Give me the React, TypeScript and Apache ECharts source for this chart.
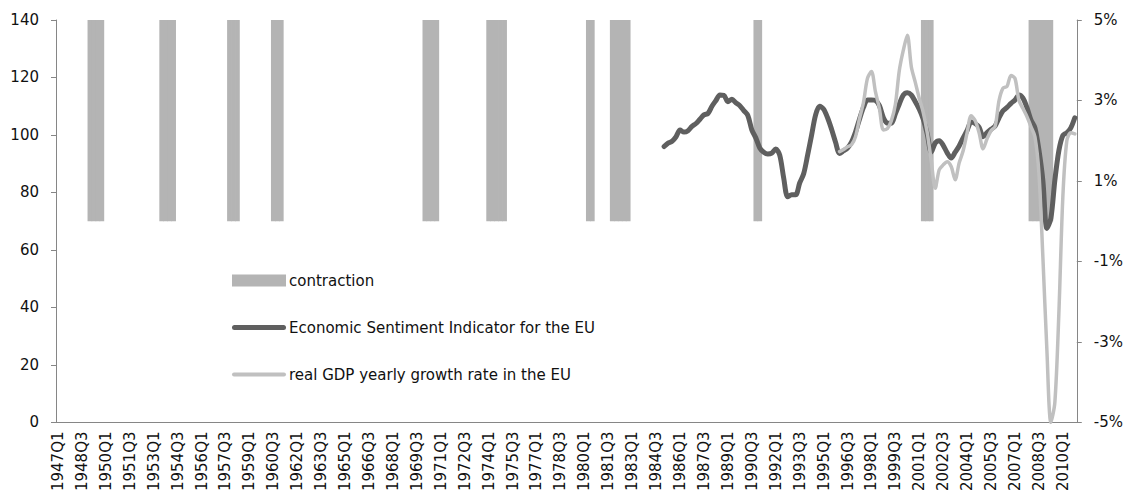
import React, { useEffect, useRef } from "react";
import * as echarts from "echarts";

// ---------- data ----------
const firstYear = 1947;
const lastYear = 2010;

const quarters: string[] = [];
for (let y = firstYear; y <= lastYear; y++) {
  for (let q = 1; q <= 4; q++) quarters.push(`${y}Q${q}`);
}

const contractionQuarters = [
  "1949Q1", "1949Q2", "1949Q3", "1949Q4",
  "1953Q3", "1953Q4", "1954Q1", "1954Q2",
  "1957Q4", "1958Q1", "1958Q2",
  "1960Q3", "1960Q4", "1961Q1",
  "1970Q1", "1970Q2", "1970Q3", "1970Q4",
  "1974Q1", "1974Q2", "1974Q3", "1974Q4", "1975Q1",
  "1980Q2", "1980Q3",
  "1981Q4", "1982Q1", "1982Q2", "1982Q3", "1982Q4",
  "1990Q4", "1991Q1",
  "2001Q2", "2001Q3", "2001Q4",
  "2008Q1", "2008Q2", "2008Q3", "2008Q4", "2009Q1", "2009Q2",
];
const contractionLow = 70;
const contractionHigh = 140;

const esiStart = "1985Q1";
const esiValues = [
  96.0, 97.2, 97.8, 99.4, 101.7, 101.0, 101.5, 103.0, 104.0, 105.5,
  107.0, 107.5, 110.0, 112.0, 113.9, 113.8, 111.6, 112.4, 111.2, 110.2,
  108.5, 106.8, 101.8, 99.0, 95.5, 94.0, 93.4, 93.7, 95.1, 93.0,
  85.0, 78.5, 79.2, 79.2, 83.3, 86.5, 93.0, 100.0, 107.0, 110.0,
  109.0, 106.0, 102.0, 97.5, 93.6, 94.5, 95.5, 97.5, 101.0, 105.5,
  109.6, 112.2, 112.2, 112.0, 110.2, 106.0, 104.1, 104.1, 107.4, 110.8,
  113.9, 114.7, 113.9, 111.6, 109.0, 105.5, 100.3, 94.0, 97.2, 98.0,
  96.4, 93.8, 92.0, 94.0, 96.2, 99.0, 101.6, 104.5, 104.0, 102.7,
  99.4, 100.8, 102.0, 103.1, 106.0, 108.4, 109.6, 111.0, 112.2, 113.9,
  112.8, 109.5, 105.2, 102.5, 94.8, 84.0, 67.5, 71.0, 84.3, 94.5,
  99.8, 100.8, 102.5, 106.0,
];

const gdpStart = "1996Q1";
const gdpValues = [
  1.73, 1.78, 1.85, 1.9, 2.1, 2.55, 2.95, 3.55, 3.72, 3.22,
  2.8, 2.27, 2.3, 2.5, 2.9, 3.75, 4.25, 4.62, 3.84, 3.45,
  3.05, 2.7, 2.2, 1.5, 0.82, 1.28, 1.4, 1.48, 1.36, 1.03,
  1.45, 1.75, 2.2, 2.62, 2.5, 2.2, 1.8, 2.05, 2.25, 2.35,
  3.0, 3.31, 3.35, 3.62, 3.55, 3.0, 2.8, 2.6, 2.35, 2.1,
  1.2, -0.9, -3.2, -5.0, -4.5, -2.3, 0.6, 2.0, 2.2, 2.17,
];

const leftTicks = { min: 0, max: 140, interval: 20 };
const rightTicks = { min: -5, max: 5, interval: 2 };

const seriesNames = {
  contraction: "contraction",
  esi: "Economic Sentiment Indicator for the EU",
  gdp: "real GDP yearly growth rate in the EU",
};

// ---------- derived arrays ----------
function padSeries(start: string, values: number[]): (number | null)[] {
  const s = quarters.indexOf(start);
  return quarters.map((_, i) => (i >= s && i - s < values.length ? values[i - s] : null));
}
const contractionBase = quarters.map((q) => (contractionQuarters.includes(q) ? contractionLow : null));
const contractionBar = quarters.map((q) =>
  contractionQuarters.includes(q) ? contractionHigh - contractionLow : null
);
const esiData = padSeries(esiStart, esiValues);
const gdpData = padSeries(gdpStart, gdpValues);

const FONT = "'DejaVu Sans', 'Liberation Sans', sans-serif";
const FS = 15;
const AXIS_COLOR = "#868686";
const TEXT_COLOR = "#111";
const BAR_COLOR = "#b4b4b4";

export default function App() {
  const ref = useRef<HTMLDivElement>(null);
  useEffect(() => {
    if (!ref.current) return;
    const chart = echarts.init(ref.current, null, { renderer: "svg" });
    chart.setOption({
      animation: false,
      backgroundColor: "#fff",
      textStyle: { fontFamily: FONT },
      grid: { left: 56, right: 47, top: 20, bottom: 71, containLabel: false },
      legend: {
        orient: "vertical",
        left: 232,
        top: 273,
        padding: 0,
        itemWidth: 54,
        itemHeight: 12,
        itemGap: 32,
        symbolKeepAspect: true,
        selectedMode: false,
        itemStyle: { borderWidth: 0 },
        textStyle: {
          fontFamily: FONT,
          fontSize: FS,
          color: TEXT_COLOR,
          lineHeight: 12,
          padding: [0, 0, 0, -2],
        },
        data: [
          { name: seriesNames.contraction, icon: "rect" },
          { name: seriesNames.esi, icon: "path://M2.5,0 L51.5,0 A2.5,2.5 0 0 1 51.5,5 L2.5,5 A2.5,2.5 0 0 1 2.5,0 Z" },
          { name: seriesNames.gdp, icon: "path://M2,0 L52,0 A2,2 0 0 1 52,4 L2,4 A2,2 0 0 1 2,0 Z" },
        ],
      },
      xAxis: {
        type: "category",
        data: quarters,
        boundaryGap: true,
        axisLine: { lineStyle: { color: AXIS_COLOR, width: 1 } },
        axisTick: { interval: 0, length: 4, lineStyle: { color: AXIS_COLOR } },
        axisLabel: {
          interval: 5,
          rotate: 90,
          margin: 9,
          fontSize: FS,
          color: TEXT_COLOR,
          fontFamily: FONT,
        },
        splitLine: { show: false },
      },
      yAxis: [
        {
          type: "value",
          min: leftTicks.min,
          max: leftTicks.max,
          interval: leftTicks.interval,
          position: "left",
          axisLine: { show: true, lineStyle: { color: AXIS_COLOR } },
          axisTick: { show: true, length: 5, lineStyle: { color: AXIS_COLOR } },
          axisLabel: { margin: 17, fontSize: FS, color: TEXT_COLOR, fontFamily: FONT },
          splitLine: { show: false },
        },
        {
          type: "value",
          min: rightTicks.min,
          max: rightTicks.max,
          interval: rightTicks.interval,
          position: "right",
          axisLine: { show: true, lineStyle: { color: AXIS_COLOR } },
          axisTick: { show: true, length: 5, lineStyle: { color: AXIS_COLOR } },
          axisLabel: {
            margin: 17,
            fontSize: FS,
            color: TEXT_COLOR,
            fontFamily: FONT,
            formatter: (v: number) => `${v}%`,
          },
          splitLine: { show: false },
        },
      ],
      series: [
        {
          name: "base",
          type: "bar",
          stack: "c",
          data: contractionBase,
          barWidth: 4.7,
          itemStyle: { color: "rgba(0,0,0,0)" },
          silent: true,
        },
        {
          name: seriesNames.contraction,
          type: "bar",
          stack: "c",
          data: contractionBar,
          barWidth: 4.7,
          itemStyle: { color: BAR_COLOR },
          silent: true,
        },
        {
          name: seriesNames.esi,
          type: "line",
          data: esiData,
          yAxisIndex: 0,
          symbol: "none",
          smooth: 0.3,
          color: "#5f5f5f",
          lineStyle: { width: 5, color: "#5f5f5f", cap: "round", join: "round" },
          silent: true,
        },
        {
          name: seriesNames.gdp,
          type: "line",
          data: gdpData,
          yAxisIndex: 1,
          symbol: "none",
          smooth: 0.3,
          color: "#c0c0c0",
          lineStyle: { width: 3.5, color: "#c0c0c0", cap: "round", join: "round" },
          silent: true,
        },
      ],
    });
    return () => chart.dispose();
  }, []);
  return (
    <div
      ref={ref}
      style={{ position: "fixed", left: 0, top: 0, width: 1126, height: 494, background: "#fff" }}
    />
  );
}
